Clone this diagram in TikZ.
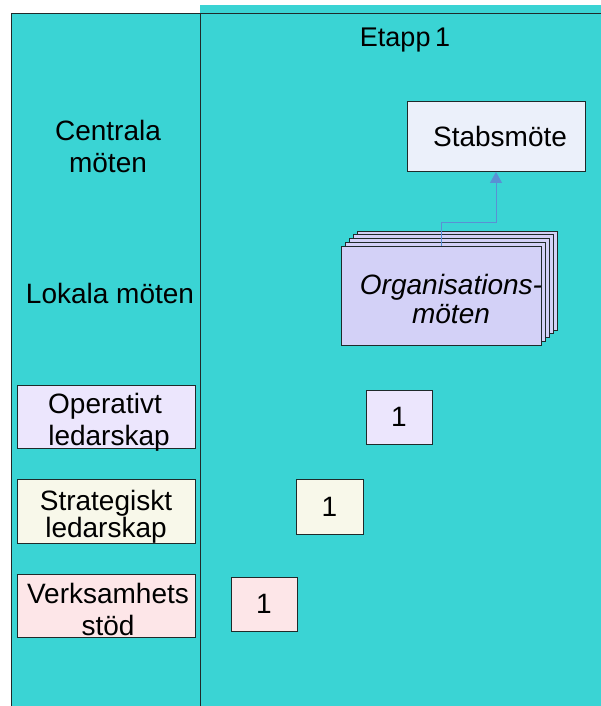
\documentclass[tikz,border=0pt]{standalone}
\usepackage{fontspec}
\setmainfont{Liberation Sans}
\usetikzlibrary{arrows.meta}
\definecolor{cyanbg}{HTML}{3AD4D4}
\definecolor{stabfill}{HTML}{EBF0FA}
\definecolor{orgfill}{HTML}{D3D1F7}
\definecolor{opfill}{HTML}{ECE6FD}
\definecolor{strfill}{HTML}{F8F8EA}
\definecolor{verfill}{HTML}{FDE6E8}
\definecolor{arrcol}{HTML}{5A90D4}
\definecolor{edgecol}{HTML}{1F2A2A}
\tikzset{
  box/.style={draw=edgecol, line width=0.9pt, inner sep=0pt, align=center,
    font=\fontsize{28}{32}\selectfont},
  lbl/.style={inner sep=0pt, align=center, font=\fontsize{28}{32}\selectfont},
  arr/.style={draw=arrcol, line width=0.9pt, -{Triangle[width=12pt,length=11pt,fill=arrcol]}}
}
\begin{document}
\begin{tikzpicture}[x=1pt,y=-1pt]
\useasboundingbox (0,0) rectangle (601,706);
\fill[white] (0,0) rectangle (601,706);
\fill[cyanbg] (11,13) rectangle (601,706);
\fill[cyanbg] (200,5) rectangle (601,13);
\draw[edgecol, line width=0.9pt] (11,706) -- (11,13) -- (601,13);
\draw[edgecol, line width=0.9pt] (200,13) -- (200,706);

\node[lbl, font=\fontsize{27}{32}\selectfont] (etapp) at (405,40) {Etapp\,1};
\node[lbl] (central) at (108,146) {Centrala\\möten};
\node[lbl] (lokal) at (110,293) {Lokala möten};

\node[box, fill=stabfill, minimum width=178pt, minimum height=70pt] (stab) at (496,136.5) {\hspace*{8pt}Stabsmöte};

\foreach \k in {4,3,2,1}{
  \node[box, fill=orgfill, minimum width=200pt, minimum height=99pt] (org\k) at (441+4*\k,295.5-3.75*\k) {};
}
\node[box, fill=orgfill, minimum width=200pt, minimum height=99pt] (org) at (441,295.5) {};
\node[lbl, font=\fontsize{28}{29}\selectfont\itshape] (orgtext) at (451,299) {Organisations-\\möten};

\draw[arr] (org.north) -- ++(0,-23) -| (stab.south);

\node[box, fill=opfill, minimum width=178pt, minimum height=63pt] (op) at (106,416.5) {};
\node[lbl, font=\fontsize{28}{32}\selectfont] (optext) at (105,422) {Operativt\\ \hspace*{8pt}ledarskap};
\node[box, fill=strfill, minimum width=178pt, minimum height=64pt] (str) at (106,511) {};
\node[lbl, font=\fontsize{28}{20}\selectfont] (strtext) at (106,517) {Strategiskt\\ledarskap};
\node[box, fill=verfill, minimum width=178pt, minimum height=63pt] (ver) at (106,605.5) {};
\node[lbl, font=\fontsize{28}{32}\selectfont] (vertext) at (108,609) {Verksamhets\\stöd};

\node[box, fill=opfill, minimum width=66pt, minimum height=54pt] (op1) at (399,417) {1};
\node[box, fill=strfill, minimum width=67pt, minimum height=55pt] (str1) at (329.5,506.5) {1};
\node[box, fill=verfill, minimum width=66pt, minimum height=54pt] (ver1) at (264,604) {1};
\end{tikzpicture}
\end{document}
